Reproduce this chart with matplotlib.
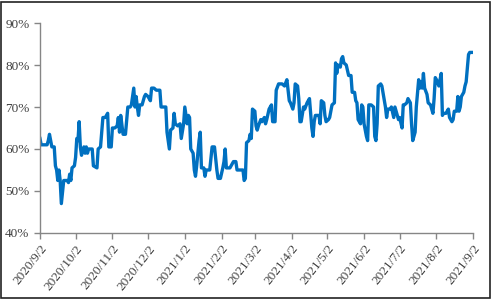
import datetime as dt

import matplotlib
matplotlib.use("Agg")
import matplotlib.pyplot as plt
from matplotlib.patches import Rectangle
from matplotlib.ticker import FuncFormatter

# day offsets from 2020/9/2 and the value on that day (%)
start = dt.date(2020, 9, 2)
day_offset = [
    0, 1, 6, 7, 8, 10, 12, 13, 14, 15, 16, 17, 18, 20, 23, 24, 25, 26, 27, 29,
    30, 31, 32, 33, 34, 35, 37, 38, 39, 40, 41, 44, 45, 48, 49, 51, 53, 55, 57, 58,
    60, 61, 63, 65, 66, 67, 68, 70, 72, 74, 76, 77, 79, 80, 81, 82, 83, 84, 86, 88,
    89, 91, 93, 94, 96, 98, 101, 102, 106, 107, 109, 110, 112, 113, 114, 116, 118, 119, 121, 122,
    124, 125, 126, 127, 129, 130, 131, 132, 134, 135, 136, 138, 139, 140, 143, 145, 147, 149, 150, 152,
    154, 155, 156, 157, 160, 163, 165, 166, 171, 172, 173, 174, 176, 177, 178, 179, 181, 182, 183, 184,
    186, 187, 189, 190, 191, 193, 195, 196, 198, 199, 201, 204, 206, 208, 210, 211, 213, 214, 215, 217,
    218, 219, 220, 222, 223, 225, 226, 227, 229, 230, 231, 232, 234, 235, 236, 237, 239, 240, 241, 243,
    244, 246, 248, 249, 250, 251, 253, 254, 255, 256, 258, 260, 262, 263, 265, 266, 267, 268, 270, 271,
    272, 273, 275, 276, 277, 279, 281, 282, 283, 284, 285, 287, 288, 291, 292, 293, 295, 296, 298, 299,
    300, 302, 303, 305, 306, 307, 309, 310, 312, 313, 314, 316, 317, 319, 320, 321, 322, 323, 324, 326,
    327, 329, 331, 332, 333, 334, 336, 338, 339, 340, 342, 344, 345, 347, 348, 349, 351, 352, 353, 354,
    355, 357, 358, 359, 361, 362, 363, 365,
]
ratio = [
    62.5, 61, 61, 62, 63.5, 60.5, 60.5, 56, 55, 52.5, 55, 52.5, 47, 52.5, 52.5, 52, 54, 52.5, 55.5, 56,
    58, 62.5, 62, 66.5, 60.5, 58.5, 60.5, 59, 60.5, 59, 60, 60, 56, 55.5, 60, 60.5, 67.5, 67.5, 68.5, 60.5,
    60.5, 65, 65, 65.5, 67.5, 64, 68, 63.5, 63.5, 70, 70, 70.5, 74.5, 70, 72.5, 70, 68, 70.5, 70.5, 72.5,
    73, 72.5, 71.5, 74.5, 74.5, 74, 74, 70, 70, 64, 60, 64.5, 65, 68.5, 66, 65.5, 66, 62.5, 66, 70,
    66, 68, 67.5, 60, 59, 55, 53.5, 56, 62, 64, 55.5, 55.5, 53.5, 55, 55, 60.5, 60.5, 55, 53, 53,
    55.5, 57, 60, 55.5, 55.5, 57, 57, 55, 55, 52.5, 53, 61.5, 62, 63.5, 62.5, 69.5, 69, 65.5, 64.5, 65.5,
    67, 66.5, 67.5, 66, 67, 69.5, 70.5, 66.5, 66.5, 74, 75.5, 75.5, 75, 76.5, 71.5, 71, 69.5, 71, 75.5, 75,
    72, 66.5, 66.5, 70, 69.5, 71, 71.5, 72, 65, 63, 66.5, 68, 68, 68, 66, 71.5, 71, 68, 66.5, 67,
    67.5, 70.5, 71, 80.5, 78, 80, 79.5, 81.5, 82, 80.5, 80, 77.5, 77.5, 73.5, 73.5, 71.5, 71, 67, 66, 70.5,
    70, 66, 63, 62, 70.5, 70.5, 70, 63, 62, 66, 75, 75.5, 75, 70, 67.5, 69.5, 69.5, 70, 67.5, 70,
    69, 67, 67.5, 65, 70.5, 70.5, 71, 72, 71, 66, 62, 64, 70, 76.5, 74.5, 76, 74.5, 78, 74.5, 73,
    71, 70.5, 68.5, 72, 77, 76.5, 75, 78, 68, 68.5, 68.5, 69.5, 67.5, 66.5, 67, 69, 69, 72.5, 69, 70,
    72.5, 73.5, 75, 76, 82.5, 83, 83, 83,
]
dates = [start + dt.timedelta(days=d) for d in day_offset]

tick_dates = [dt.date(2020 + (8 + i) // 12, (8 + i) % 12 + 1, 2) for i in range(13)]
tick_labels = [f"{d.year}/{d.month}/{d.day}" for d in tick_dates]

plt.rcParams["font.family"] = ["Liberation Serif", "DejaVu Serif"]

fig = plt.figure(figsize=(4.93, 3.04), dpi=100)
ax = fig.add_axes([0.0811, 0.2336, 0.8789, 0.6907])

ax.plot(dates, ratio, color="#0070C0", lw=2.4, solid_joinstyle="round")

ax.set_ylim(40, 90)
ax.set_yticks(range(40, 91, 10))
ax.yaxis.set_major_formatter(FuncFormatter(lambda v, p: f"{v:.0f}%"))
ax.set_xlim(tick_dates[0], tick_dates[-1])
ax.set_xticks(tick_dates)
ax.set_xticklabels(tick_labels, rotation=52, ha="right", rotation_mode="anchor")

for side in ["top", "right"]:
    ax.spines[side].set_visible(False)
for side in ["left", "bottom"]:
    ax.spines[side].set_color("#868686")
    ax.spines[side].set_linewidth(1)
ax.tick_params(axis="both", colors="#868686", labelcolor="#404040",
               labelsize=9.5, length=4, width=1, direction="out")
ax.tick_params(axis="x", labelsize=9.5, pad=3)

fig.patches.append(Rectangle((0.003, 0.02), 0.99, 0.975, transform=fig.transFigure,
                             fill=False, edgecolor="#222222", lw=1.2))

fig.savefig("out.png", dpi=100)
